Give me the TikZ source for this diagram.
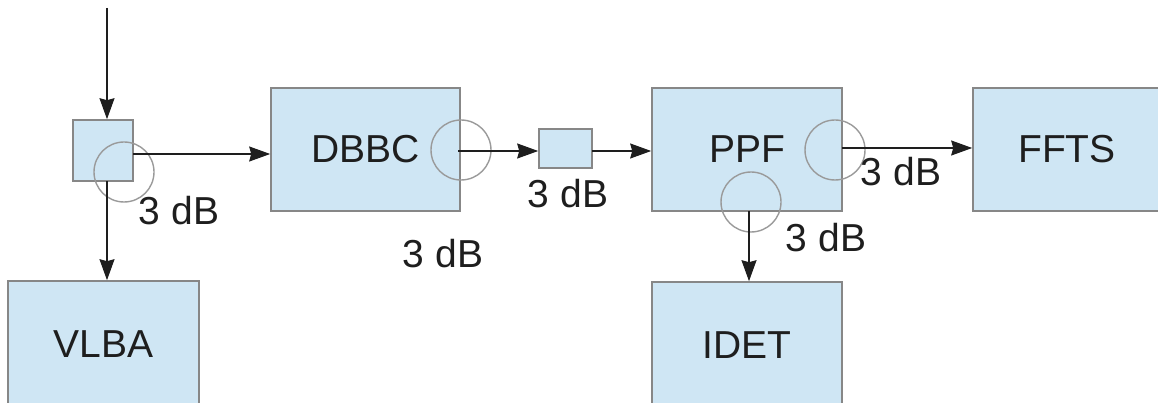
\documentclass[tikz,border=0pt]{standalone}
\usepackage{fontspec}
\setmainfont{Liberation Sans}
\usetikzlibrary{arrows.meta}
\definecolor{boxfill}{HTML}{CFE6F4}
\definecolor{boxline}{HTML}{878787}
\definecolor{ringline}{HTML}{9A9A9A}
\definecolor{ink}{HTML}{1E1E1E}
\begin{document}
\begin{tikzpicture}[x=1pt,y=-1pt,
  block/.style={draw=boxline, fill=boxfill, line width=1.6pt, inner sep=0pt,
    text=ink, font=\fontsize{39}{42}\selectfont},
  ring/.style={circle, draw=ringline, line width=1.4pt, minimum size=60pt, inner sep=0pt},
  gain/.style={text=ink, font=\fontsize{39}{42}\selectfont, inner sep=0pt},
  link/.style={draw=ink, line width=1.5pt,
    -{Stealth[inset=2pt,length=21pt,width=15pt]}}]
\useasboundingbox (0,0) rectangle (1158,403);

% blocks
\node[block, minimum width=60pt, minimum height=61pt] (split) at (103,150.5) {};
\node[block, minimum width=189pt, minimum height=123pt] (dbbc) at (365.5,149.5) {DBBC};
\node[block, minimum width=53pt, minimum height=39pt] (amp) at (565.5,148.5) {};
\node[block, minimum width=190pt, minimum height=123pt] (ppf) at (747,149.5) {PPF};
\node[block, minimum width=188pt, minimum height=123pt] (ffts) at (1067,149.5) {FFTS};
\node[block, minimum width=191pt, minimum height=126pt] (vlba) at (103.5,344) {VLBA};
\node[block, minimum width=190pt, minimum height=126pt] (idet) at (747,345) {IDET};

% splitter rings
\node[ring] (r1) at (124,172) {};
\node[ring] (r2) at (461,150) {};
\node[ring] (r3) at (835,150) {};
\node[ring] (r4) at (751,202) {};

% gain labels
\node[gain] (g1) at (179,211) {3 dB};
\node[gain] (g2) at (568,194) {3 dB};
\node[gain] (g3) at (443,254) {3 dB};
\node[gain] (g4) at (901,172) {3 dB};
\node[gain] (g5) at (826,238) {3 dB};

% signal paths
\coordinate (src) at (107,8);
\coordinate (s1) at (133,154);
\coordinate (s2) at (107,181);
\coordinate (d1) at (458,151);
\coordinate (a1) at (592,151);
\coordinate (p1) at (842,148);
\coordinate (p2) at (749,211);

\draw[link] (src) -- (src |- split.north);
\draw[link] (s1) -- (s1 -| dbbc.west);
\draw[link] (s2) -- (s2 |- vlba.north);
\draw[link] (d1) -- (d1 -| amp.west);
\draw[link] (a1) -- (a1 -| ppf.west);
\draw[link] (p1) -- (p1 -| ffts.west);
\draw[link] (p2) -- (p2 |- idet.north);
\end{tikzpicture}
\end{document}
